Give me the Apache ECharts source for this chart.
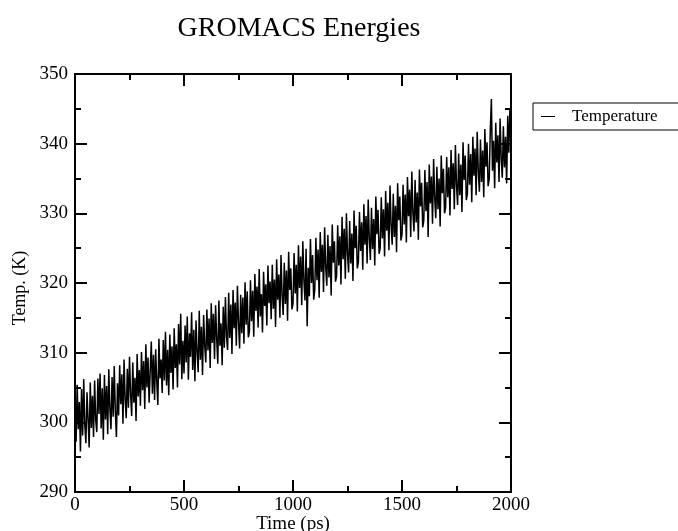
<!DOCTYPE html>
<html>
<head>
<meta charset="utf-8">
<script src="https://cdn.jsdelivr.net/npm/echarts@6/dist/echarts.min.js"></script>
<style>
  html,body{margin:0;padding:0;background:#fff;}
  #chart{width:678px;height:531px;}
</style>
</head>
<body>
<div id="chart"></div>
<script>
// GROMACS energy trace — temperature vs time (one sample per 5 ps)
const TITLE = 'GROMACS Energies';
const SERIES_NAME = 'Temperature';
const X_NAME = 'Time (ps)';
const Y_NAME = 'Temp. (K)';
const STEP_PS = 5;
const X_TICKS = {min: 0, max: 2000, interval: 500};
const Y_TICKS = {min: 290, max: 350, interval: 10};

const temp = [
  // 0 – 95
  303.5,297.2,305.4,299.0,302.9,295.8,304.8,298.1,306.2,299.6,297.0,304.3,300.5,296.4,305.7,299.2,303.8,297.9,306.0,300.3,
  // 100 – 195
  298.6,306.3,301.2,307.0,299.1,304.9,297.5,306.8,300.4,305.2,298.3,307.6,302.0,299.0,306.5,300.8,308.1,301.5,297.9,305.6,
  // 200 – 295
  301.0,308.2,302.6,306.9,299.8,309.0,303.3,300.6,307.7,302.1,309.4,304.0,300.9,308.6,302.8,306.4,300.2,309.8,303.7,307.5,
  // 300 – 395
  302.4,310.1,304.6,308.8,301.9,311.2,305.0,309.3,302.8,307.4,311.6,304.1,309.7,303.2,310.5,305.9,302.5,312.0,306.3,309.0,
  // 400 – 495
  304.2,311.8,306.0,313.0,305.3,310.4,303.9,312.6,307.1,310.9,304.7,313.5,307.8,311.2,305.0,314.1,308.3,315.6,306.2,311.7,
  // 500 – 595
  307.0,313.9,308.6,315.2,306.1,312.8,309.4,315.8,307.5,313.3,305.9,314.6,310.1,307.2,316.0,309.0,313.7,306.8,315.4,311.0,
  // 600 – 695
  308.6,316.2,310.3,314.9,307.8,317.1,311.4,315.6,309.1,316.8,312.0,308.4,317.5,311.0,314.2,308.2,316.6,310.7,318.0,312.3,
  // 700 – 795
  310.4,318.6,312.1,316.9,309.8,319.0,313.5,317.2,311.0,319.6,314.4,310.6,318.3,312.8,317.9,311.3,320.1,314.0,318.8,312.2,
  // 800 – 895
  313.0,320.4,314.5,318.9,312.3,321.3,316.0,319.5,313.6,322.0,315.2,318.4,312.9,321.6,316.7,319.8,313.9,322.5,317.1,320.2,
  // 900 – 995
  314.8,322.6,316.3,320.5,313.7,323.4,317.6,321.2,315.0,324.0,318.2,315.4,322.9,317.0,321.8,314.6,324.5,319.0,322.1,316.2,
  // 1000 – 1095
  317.0,324.3,318.5,322.6,315.9,325.4,319.3,323.8,316.8,326.0,320.4,317.5,324.9,313.8,322.2,318.1,326.3,320.0,324.0,317.6,
  // 1100 – 1195
  319.1,326.5,320.4,324.8,317.9,327.3,321.6,325.5,318.7,328.0,322.3,319.6,326.9,320.8,325.3,318.2,328.4,322.9,326.0,320.2,
  // 1200 – 1295
  321.0,328.3,322.5,326.7,319.8,329.5,323.4,327.8,320.6,330.0,324.2,321.5,328.9,322.8,327.1,320.3,330.4,325.0,328.2,322.1,
  // 1300 – 1395
  323.0,330.2,324.6,328.7,321.9,331.3,325.5,329.6,322.8,332.0,326.4,323.3,330.8,324.9,329.2,322.5,332.4,327.0,330.5,324.2,
  // 1400 – 1495
  325.0,332.3,326.4,330.6,323.8,333.2,327.5,331.5,324.7,334.0,328.3,325.5,332.8,326.6,331.1,324.4,334.3,329.0,332.4,326.1,
  // 1500 – 1595
  326.9,334.1,328.4,332.7,325.8,335.2,329.6,333.4,326.6,336.0,330.1,327.4,334.8,328.7,333.0,326.2,336.3,331.0,334.4,328.0,
  // 1600 – 1695
  329.0,336.2,330.3,334.5,326.6,337.0,331.4,335.3,328.5,337.8,332.2,329.3,336.7,330.6,335.0,328.1,338.3,332.9,336.4,330.0,
  // 1700 – 1795
  330.8,338.1,332.3,336.6,329.7,339.1,333.5,337.2,330.6,339.8,334.1,331.2,338.6,332.6,337.0,330.2,340.2,334.8,338.3,331.9,
  // 1800 – 1895
  332.8,340.0,334.1,338.5,331.6,341.0,335.4,339.3,332.6,341.7,336.0,333.1,340.6,334.5,339.0,332.3,342.1,336.7,340.2,333.9,
  // 1900 – 1995
  334.9,341.9,346.4,336.1,340.4,333.6,343.0,337.3,341.2,334.5,343.6,338.0,335.1,342.5,336.6,341.0,334.3,344.0,338.7,345.0,
  // 2000
  340.5
];

const FONT = '"Liberation Serif", "DejaVu Serif", serif';
const INK = '#000';

const axisBase = (extra) => Object.assign({
  type: 'value',
  axisLine: {show: true, onZero: false, lineStyle: {color: INK, width: 2}},
  axisTick: {show: true, inside: true, length: 12, lineStyle: {color: INK, width: 2}},
  minorTick: {show: true, splitNumber: 2, length: 6, lineStyle: {color: INK, width: 2}},
  splitLine: {show: false},
  axisLabel: {color: INK, fontFamily: FONT, fontSize: 19},
}, extra);

const data = temp.map((v, i) => [i * STEP_PS, v]);

const chart = echarts.init(document.getElementById('chart'), null, {renderer: 'canvas'});
chart.setOption({
  animation: false,
  backgroundColor: '#fff',
  title: {text: TITLE, left: 294, top: 10, textAlign: 'center',
    textStyle: {fontFamily: FONT, fontSize: 28, fontWeight: 'normal', color: INK}},
  grid: {left: 75, top: 74, right: 167, bottom: 39, outerBoundsMode: 'none', containLabel: false},
  legend: {
    data: [{name: SERIES_NAME, icon: 'rect'}],
    left: 533, top: 103,
    itemWidth: 14, itemHeight: 1,
    borderColor: INK, borderWidth: 1, borderRadius: 0,
    padding: [5, 40, 5, 8],
    textStyle: {fontFamily: FONT, fontSize: 17, color: INK, padding: [0, 0, 0, 12]},
  },
  xAxis: [
    axisBase(Object.assign({position: 'bottom', name: X_NAME, nameLocation: 'middle', nameGap: 23,
      nameMoveOverlap: false,
      nameTextStyle: {fontFamily: FONT, fontSize: 19, color: INK, verticalAlign: 'top'},
      axisLabel: {color: INK, fontFamily: FONT, fontSize: 19, margin: 4, formatter: v => String(v)}}, X_TICKS)),
    axisBase(Object.assign({position: 'top', axisLabel: {show: false}}, X_TICKS)),
  ],
  yAxis: [
    axisBase(Object.assign({position: 'left', name: Y_NAME, nameLocation: 'middle', nameGap: 46,
      nameMoveOverlap: false,
      nameTextStyle: {fontFamily: FONT, fontSize: 18, color: INK, padding: [0, 0, 0, -10]},
      axisLabel: {color: INK, fontFamily: FONT, fontSize: 19, margin: 7}}, Y_TICKS)),
    axisBase(Object.assign({position: 'right', axisLabel: {show: false}}, Y_TICKS)),
  ],
  series: [{
    name: SERIES_NAME, type: 'line', data: data,
    xAxisIndex: 0, yAxisIndex: 0,
    showSymbol: false, symbol: 'none',
    lineStyle: {color: INK, width: 1.5},
    itemStyle: {color: INK},
  }],
});
window.addEventListener('resize', () => chart.resize());
</script>
</body>
</html>
